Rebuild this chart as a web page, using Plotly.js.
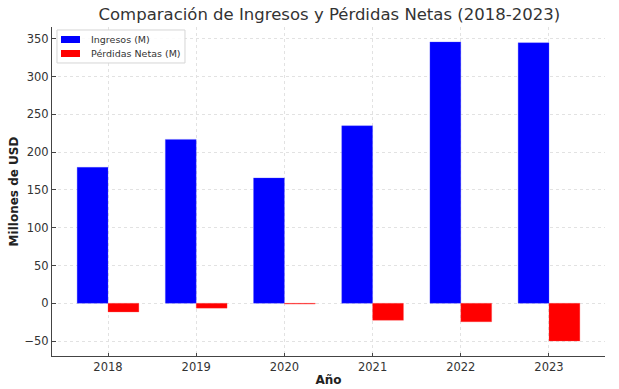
<!DOCTYPE html>
<html><head><meta charset="utf-8">
<script src="https://cdn.plot.ly/plotly-3.0.1.min.js"></script>
<style>body{margin:0;background:#fff}#c{width:619px;height:389px}</style>
</head><body><div id="c"></div>
<script>
const years = ["2018","2019","2020","2021","2022","2023"];
const ingresos = [180, 217, 166, 235, 346, 345];
const perdidas = [-11.5, -6.5, -1, -22.5, -24.5, -50];
const yTicks = [-50, 0, 50, 100, 150, 200, 250, 300, 350];
const seriesNames = ["Ingresos (M)", "Pérdidas Netas (M)"];
const seriesColors = ["#0000ff", "#ff0000"];

const traces = [
  {type: "bar", x: years, y: ingresos, name: seriesNames[0], marker: {color: seriesColors[0], line: {color: "rgba(80,80,255,0.6)", width: 0.5}}},
  {type: "bar", x: years, y: perdidas, name: seriesNames[1], marker: {color: seriesColors[1], line: {color: "rgba(255,80,80,0.6)", width: 0.5}}}
];

// hand-drawn compact legend (matplotlib style)
const shapes = [
  {type: "rect", xref: "paper", yref: "paper", x0: 0.009, x1: 0.2405, y0: 0.8906, y1: 0.9909,
   line: {color: "#d5d5d5", width: 1}, fillcolor: "rgba(255,255,255,0.85)", layer: "above"},
  {type: "rect", xref: "paper", yref: "paper", x0: 0.0163, x1: 0.0506, y0: 0.9514, y1: 0.9726,
   line: {width: 0}, fillcolor: seriesColors[0], layer: "above"},
  {type: "rect", xref: "paper", yref: "paper", x0: 0.0163, x1: 0.0506, y0: 0.9088, y1: 0.9301,
   line: {width: 0}, fillcolor: seriesColors[1], layer: "above"}
];
const annotations = [
  {xref: "paper", yref: "paper", x: 0.0669, y: 0.9630, text: seriesNames[0], showarrow: false, xanchor: "left", yanchor: "middle", font: {size: 9.5, color: "#333"}},
  {xref: "paper", yref: "paper", x: 0.0669, y: 0.9195, text: seriesNames[1], showarrow: false, xanchor: "left", yanchor: "middle", font: {size: 9.5, color: "#333"}}
];

const layout = {
  width: 619, height: 389,
  margin: {l: 52, r: 14, t: 27, b: 33},
  paper_bgcolor: "#fff", plot_bgcolor: "#fff",
  font: {family: "DejaVu Sans", size: 11, color: "#333"},
  title: {text: "Comparación de Ingresos y Pérdidas Netas (2018-2023)", font: {family: "DejaVu Sans", size: 16.5, color: "#333"}, x: 0.532, xanchor: "center", y: 0.963, yanchor: "middle"},
  barmode: "group", bargap: 0.3, bargroupgap: 0,
  xaxis: {type: "category", range: [-0.635, 5.635], showline: true, linecolor: "#444", linewidth: 1,
    ticks: "inside", ticklen: 3.5, tickcolor: "#444", showgrid: true, gridcolor: "#e2e2e2", griddash: "dot", gridwidth: 1,
    tickfont: {size: 11.5, color: "#333"},
    title: {text: "<b>Año</b>", font: {size: 12, color: "#222"}, standoff: 2}},
  yaxis: {range: [-69.8, 365.8], tickvals: yTicks, ticktext: yTicks.map(v => v < 0 ? "\u2212" + Math.abs(v) : String(v)),
    showline: true, linecolor: "#444", linewidth: 1, ticks: "inside", ticklen: 3.5, tickcolor: "#444",
    showgrid: true, gridcolor: "#e2e2e2", griddash: "dot", gridwidth: 1, zeroline: false,
    tickfont: {size: 11.5, color: "#333"},
    title: {text: "<b>Millones de USD</b>", font: {size: 12, color: "#222"}, standoff: 3}},
  showlegend: false,
  shapes: shapes,
  annotations: annotations
};
Plotly.newPlot("c", traces, layout, {displayModeBar: false, staticPlot: true});
</script></body></html>
